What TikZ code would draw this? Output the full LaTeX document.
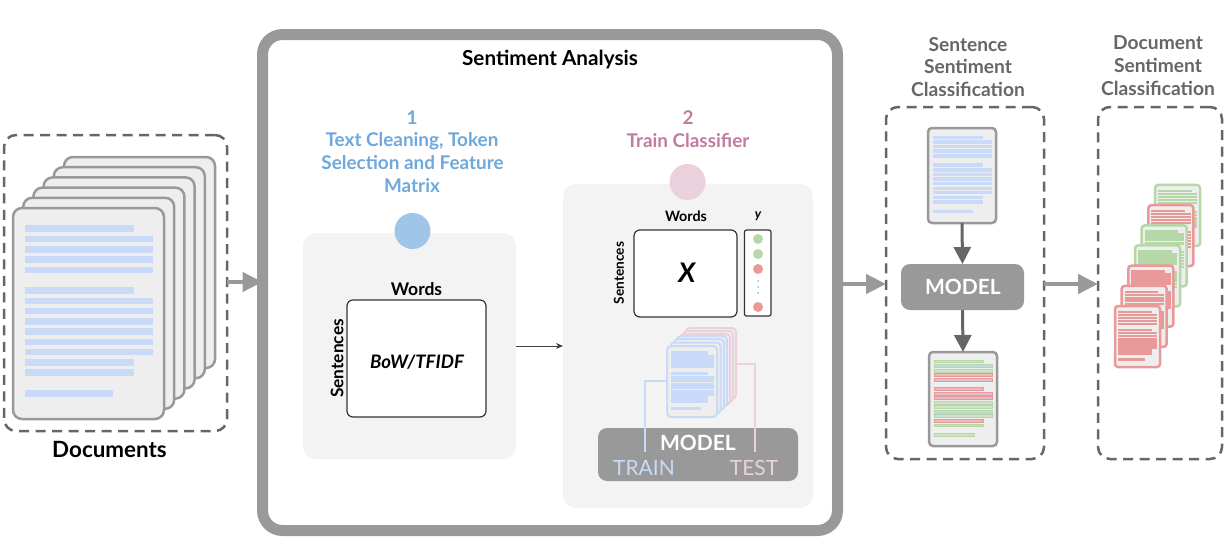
\documentclass[tikz,border=0pt]{standalone}
\usepackage{fontspec}
\setmainfont{Lato}
\usetikzlibrary{arrows.meta}
\definecolor{framegray}{HTML}{999999}
\definecolor{darkgray}{HTML}{666666}
\definecolor{panelgray}{HTML}{F3F3F3}
\definecolor{sheetgray}{HTML}{EEEEEE}
\definecolor{lineblue}{HTML}{C9DAF8}
\definecolor{linepink}{HTML}{EAD1DC}
\definecolor{dotgreen}{HTML}{B6D7A8}
\definecolor{dotred}{HTML}{EA9999}
\definecolor{titleblue}{HTML}{6FA8DC}
\definecolor{titlepink}{HTML}{C27BA0}
\definecolor{circleblue}{HTML}{9FC5E8}
\colorlet{greenfill}{dotgreen!55!sheetgray}
\colorlet{redfill}{dotred!45!linepink}
\colorlet{mixgreen}{dotgreen!35!lineblue}
\colorlet{mixred}{dotred!35!lineblue}
\newcommand{\fs}[1]{\fontsize{#1}{#1}\selectfont}
\tikzset{
  x=1pt,y=-1pt,
  box/.style={anchor=north west,inner sep=0pt,outer sep=0pt,rectangle},
  dashbox/.style={draw=darkgray,line width=2.5pt,dash pattern=on 10pt off 6.5pt,rounded corners=12pt},
  panel/.style={fill=panelgray,rounded corners=13pt},
  matrixbox/.style={draw=black!80,fill=white,line width=1.2pt,rounded corners=6pt},
  bigarrow/.style={draw=framegray,line width=4.5pt,-{Triangle[length=20pt,width=19pt]}},
  darrow/.style={draw=darkgray,line width=3pt,-{Triangle[length=17pt,width=17pt]}},
  modelbox/.style={fill=framegray,rounded corners=9pt},
  txt/.style={inner sep=0pt,align=center,font=\bfseries},
}
% \docicon{name}{x}{y}{w}{h}{border}{borderwidth}{radius}{linelist}
\newcommand{\docicon}[9]{%
  \node[box,draw=#6,fill=sheetgray,line width=#7pt,rounded corners=#8pt,minimum width=#4pt,minimum height=#5pt] (#1) at (#2,#3) {};
  \foreach \yy/\xe/\cl/\cd in #9 {
    \path[fill=\cl,draw=\cd,line width=\lineborder pt] (#2+0.08*#4,#3+\yy*#5-\halfthick) rectangle (#2+\xe*#4,#3+\yy*#5+\halfthick);
  }%
}
\def\stdlines{.098/.80/lc/lc,.147/.927/lc/lc,.197/.927/lc/lc,.244/.927/lc/lc,.294/.927/lc/lc,.391/.80/lc/lc,.441/.927/lc/lc,.488/.927/lc/lc,.538/.927/lc/lc,.585/.927/lc/lc,.635/.927/lc/lc,.682/.927/lc/lc,.732/.80/lc/lc,.780/.80/lc/lc,.879/.66/lc/lc}
\def\reslines{.098/.80/greenfill/dotgreen,.147/.927/mixgreen/dotgreen,.197/.927/greenfill/dotgreen,.244/.927/redfill/dotred,.294/.927/mixred/dotred,.391/.80/redfill/dotred,.441/.927/mixred/dotred,.488/.927/redfill/dotred,.538/.927/greenfill/dotgreen,.585/.927/greenfill/dotgreen,.635/.927/mixgreen/dotgreen,.682/.927/greenfill/dotgreen,.732/.80/redfill/dotred,.780/.80/mixgreen/dotgreen,.879/.66/greenfill/dotgreen}
\begin{document}
\begin{tikzpicture}
\useasboundingbox (0,0) rectangle (1228,552);
\colorlet{lc}{lineblue}
% main frame
\node[box,draw=framegray,fill=white,line width=11pt,rounded corners=20pt,minimum width=575pt,minimum height=496pt] (frame) at (262.5,34.5) {};
\node[txt,font=\bfseries\fs{20.7}] (title) at (550,59.5) {Sentiment Analysis};
% panels
\node[box,panel,minimum width=213pt,minimum height=226pt] (panelA) at (303,233) {};
\node[box,panel,minimum width=250pt,minimum height=324pt] (panelB) at (563,184) {};
\node[circle,fill=circleblue,minimum size=36pt,inner sep=0pt] (circA) at (412.5,231) {};
\node[circle,fill=linepink,minimum size=36pt,inner sep=0pt] (circB) at (687.5,182) {};
\node[txt,text=titleblue,font=\bfseries\fs{18.9}] (numA) at (412,118) {1};
\node[txt,text=titleblue,font=\bfseries\fs{18.9}] (tA1) at (412,141) {Text Cleaning, Token};
\node[txt,text=titleblue,font=\bfseries\fs{18.9}] (tA2) at (412.5,163) {Selection and Feature};
\node[txt,text=titleblue,font=\bfseries\fs{18.9}] (tA3) at (412,186) {Matrix};
\node[txt,text=titlepink,font=\bfseries\fs{18.9}] (numB) at (688,118) {2};
\node[txt,text=titlepink,font=\bfseries\fs{18.9}] (tB) at (688,141) {Train Classifier};
% matrix A
\node[box,matrixbox,minimum width=139pt,minimum height=117pt] (matA) at (347,300) {};
\node[txt,font=\bfseries\itshape\fs{18.6}] (bow) at (417,362) {BoW/TFIDF};
\node[txt,font=\bfseries\fs{17.5}] (wordsA) at (416.5,289.5) {Words};
\node[txt,font=\bfseries\fs{17.3},rotate=90] (sentA) at (337,358.5) {Sentences};
% matrix B
\node[box,matrixbox,minimum width=103pt,minimum height=87pt] (matB) at (634,230) {};
\node[txt,font=\bfseries\itshape\fs{27}] (xlab) at (687,273) {X};
\node[txt,font=\bfseries\fs{14.3}] (wordsB) at (686,216.5) {Words};
\node[txt,font=\bfseries\itshape\fs{13}] (ylab) at (758,216.5) {y};
\node[txt,font=\bfseries\fs{13.7},rotate=90] (sentB) at (619,273) {Sentences};
\node[box,draw=black!80,fill=white,line width=1.2pt,rounded corners=2pt,minimum width=26.5pt,minimum height=86pt] (ybox) at (744.5,230) {};
\foreach \nm/\yy/\cc in {a/239/dotgreen,b/254/dotgreen,c/269/dotred,d/307/dotred}{
  \node[circle,fill=\cc,minimum size=10pt,inner sep=0pt] (dot\nm) at (758,\yy) {};
}
\foreach \nm/\yy in {e/281,f/287,g/293}{
  \node[circle,fill=gray,minimum size=1.5pt,inner sep=0pt] (tick\nm) at (758,\yy) {};
}
% model in panel B
\node[box,modelbox,minimum width=200pt,minimum height=53pt] (modelB) at (598,428) {};
\coordinate (trainTop) at (645,381);
\coordinate (trainEnd) at (645,452);
\coordinate (testTop) at (755,364);
\coordinate (testEnd) at (755,452);
% small stack
\def\halfthick{1.05}\def\lineborder{0}
\foreach \i/\ox/\oy in {0/19/-18,1/16/-15,2/13/-12}{
  \node[box,draw=linepink,fill=sheetgray,line width=2pt,rounded corners=4pt,minimum width=50pt,minimum height=71pt] (pink\i) at (667+\ox,346+\oy) {};
}
\foreach \i/\ox/\oy in {3/10/-10,4/7/-7,5/3.5/-3.5}{
  \node[box,draw=lineblue,fill=sheetgray,line width=2pt,rounded corners=4pt,minimum width=50pt,minimum height=71pt] (blue\i) at (667+\ox,346+\oy) {};
}
\docicon{frontB}{667}{346}{50}{71}{lineblue}{2}{4}{\stdlines}
\draw[lineblue,line width=1.4pt] (frontB.west |- trainTop) -- (trainTop) -- (trainEnd);
\draw[linepink,line width=1.4pt] (pink0.east |- testTop) -- (testTop) -- (testEnd);
\node[txt,text=white,font=\bfseries\fs{21}] (modelBt) at (698,443) {MODEL};
\node[inner sep=0pt,text=lineblue,font=\fs{21}] (train) at (644,468) {TRAIN};
\node[inner sep=0pt,text=linepink,font=\fs{21}] (test) at (754,468) {TEST};
% connector A to B
\draw[black!75,line width=0.9pt,-{Stealth[length=7pt,width=6pt]}] (panelA.east |- 0,346) -- (panelB.west |- 0,346);
% documents
\def\halfthick{2.8}\def\lineborder{0}
\node[box,dashbox,minimum width=223pt,minimum height=296pt] (docsBox) at (4,135) {};
\foreach \i in {5,4,3,2,1}{
  \node[box,draw=framegray,fill=sheetgray,line width=2.5pt,rounded corners=9pt,minimum width=151pt,minimum height=211pt] (stack\i) at (13+10.2*\i,208-10.2*\i) {};
}
\docicon{front}{13}{208}{151}{211}{framegray}{2.5}{9}{\stdlines}
\node[txt,font=\bfseries\fs{22.4}] (docsLabel) at (109.5,449) {Documents};
% sentence box
\node[box,dashbox,minimum width=158pt,minimum height=352pt] (sentBox) at (886,107) {};
\node[txt,text=darkgray,font=\bfseries\fs{19.2}] (s1) at (968,45) {Sentence};
\node[txt,text=darkgray,font=\bfseries\fs{19.2}] (s2) at (968,66.5) {Sentiment};
\node[txt,text=darkgray,font=\bfseries\fs{19.2}] (s3) at (968,89.5) {Classification};
\def\halfthick{1.2}
\docicon{sentDoc}{928}{128}{68}{95}{framegray}{2.5}{4}{\stdlines}
\node[box,modelbox,minimum width=123pt,minimum height=46pt] (modelC) at (901,264) {};
\node[txt,text=white,font=\bfseries\fs{21}] (modelCt) at (963,287) {MODEL};
\def\lineborder{0.6}
\def\halfthick{1.4}
\docicon{resDoc}{929}{352}{68}{94}{framegray}{2.5}{4}{\reslines}
\draw[darrow] (sentDoc.south) -- (modelC.north);
\draw[darrow] (modelC.south) -- (resDoc.north);
% doc box
\node[box,dashbox,minimum width=124pt,minimum height=352pt] (docBox) at (1098,107) {};
\node[txt,text=darkgray,font=\bfseries\fs{19.2}] (d1) at (1158,43) {Document};
\node[txt,text=darkgray,font=\bfseries\fs{19.2}] (d2) at (1158,65.5) {Sentiment};
\node[txt,text=darkgray,font=\bfseries\fs{19.2}] (d3) at (1158,88.5) {Classification};
\def\halfthick{0.75}\def\lineborder{0}
\foreach \i/\cb in {6/dotgreen,5/dotred,4/dotgreen,3/dotgreen,2/dotred,1/dotred,0/dotred}{
  \colorlet{lc}{\cb}
  \docicon{small\i}{1115+6.67*\i}{306-20.17*\i}{45}{61}{\cb}{2.5}{3}{\stdlines}
}
% big arrows
\draw[bigarrow] (docsBox.east |- 0,282) -- (frame.west |- 0,282);
\draw[bigarrow] (frame.east |- 0,284) -- (sentBox.west |- 0,284);
\draw[bigarrow] (sentBox.east |- 0,284) -- (docBox.west |- 0,284);
\end{tikzpicture}
\end{document}
